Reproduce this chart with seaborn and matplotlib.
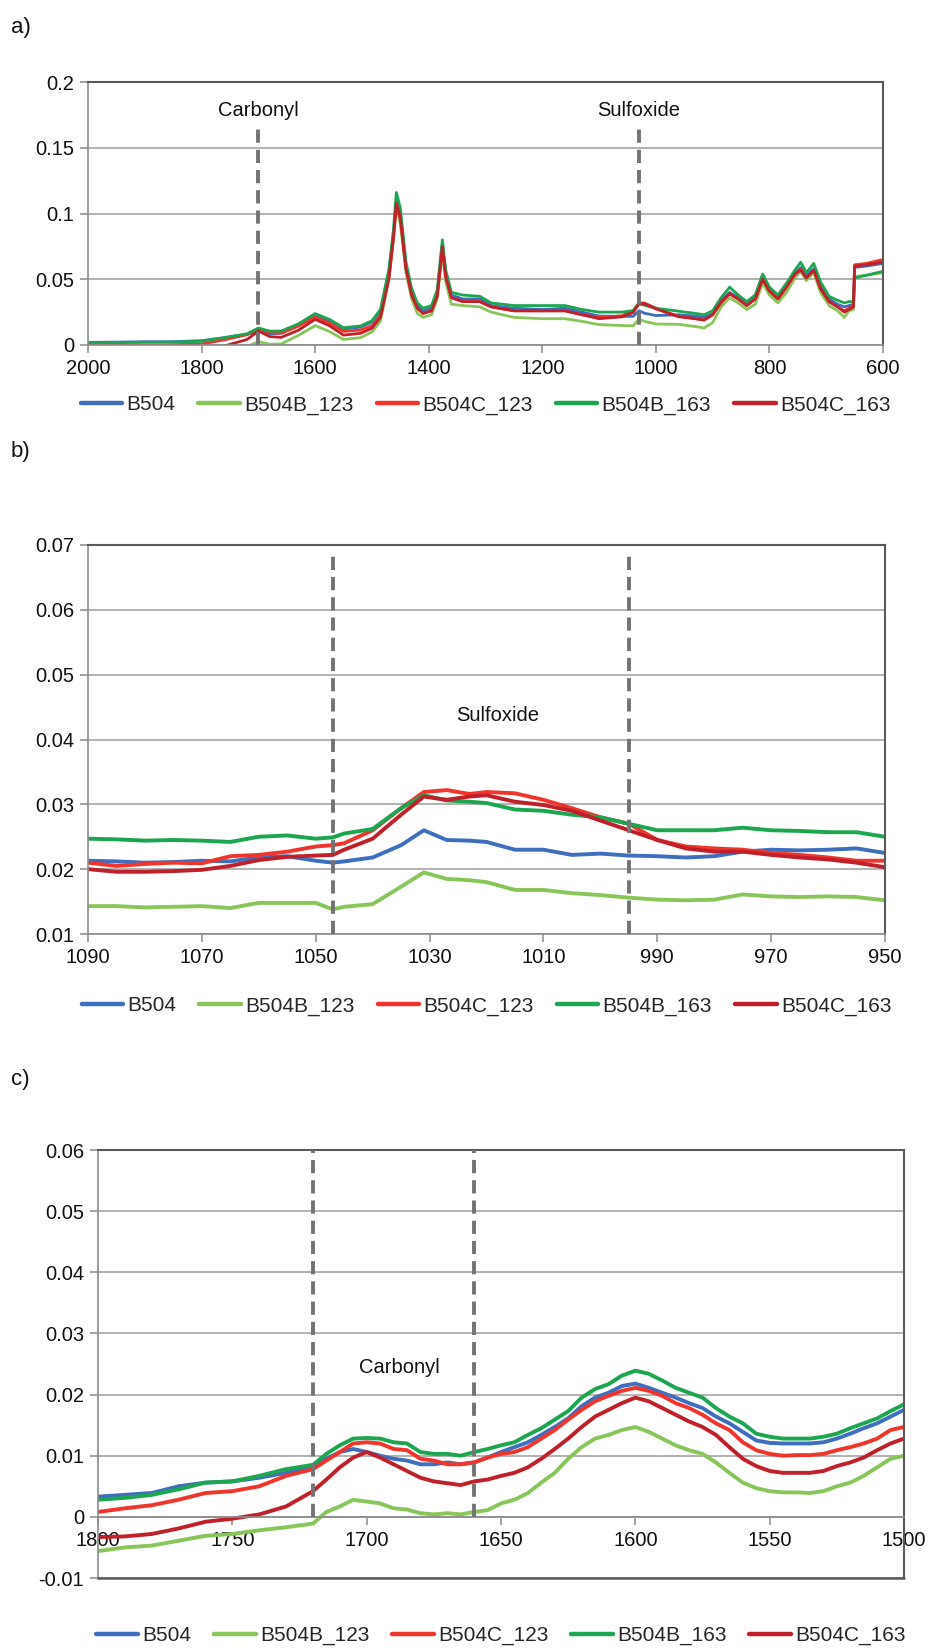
import numpy as np
import pandas as pd
import matplotlib
matplotlib.use("Agg")
import matplotlib.pyplot as plt
import seaborn as sns
from matplotlib.ticker import FixedLocator, FuncFormatter

# ---------------- data ----------------
SERIES = ["B504", "B504B_123", "B504C_123", "B504B_163", "B504C_163"]
COLORS = {"B504": "#3d6fbe", "B504B_123": "#88c65a", "B504C_123": "#f0362c",
          "B504B_163": "#1ca64f", "B504C_163": "#c0202a"}

# Panel a: full spectrum 2000-600 cm-1
XA = [2000, 1950, 1900, 1850, 1800, 1760, 1720, 1700, 1680, 1660,
      1630, 1600, 1575, 1550, 1520, 1500, 1485, 1470, 1462, 1457,
      1450, 1440, 1430, 1420, 1410, 1395, 1385, 1376, 1370, 1360,
      1340, 1310, 1290, 1250, 1200, 1160, 1130, 1100, 1060, 1040,
      1030, 1020, 1000, 960, 930, 915, 900, 885, 870, 855,
      840, 825, 812, 800, 785, 770, 755, 745, 735, 722,
      710, 695, 680, 668, 660, 652, 650, 630, 600]
A_B504 = [.002, .0022, .0025, .0025, .0033, .0056, .0081, .0106, .0086, .0089,
          .0147, .0218, .0178, .0121, .0136, .0175, .025, .055, .085, .110,
          .100, .060, .040, .030, .026, .028, .040, .076, .055, .038,
          .035, .035, .030, .028, .027, .028, .025, .022, .0218, .0218,
          .026, .0242, .0224, .023, .022, .021, .024, .034, .040, .036,
          .031, .036, .051, .042, .036, .045, .055, .059, .053, .058,
          .045, .035, .031, .029, .030, .031, .059, .060, .062]
A_B504B_123 = [-.009, -.008, -.0075, -.0065, -.0056, -.0031, -.0011, .0025, .0006, .0008,
               .0072, .0147, .0103, .0042, .0056, .010, .018, .050, .080, .107,
               .092, .055, .035, .024, .021, .023, .035, .070, .048, .031,
               .030, .029, .025, .021, .020, .020, .018, .0155, .0148, .0146,
               .0195, .018, .016, .0157, .014, .013, .017, .029, .036, .032,
               .027, .031, .047, .038, .032, .040, .051, .056, .049, .055,
               .040, .030, .026, .021, .026, .027, .052, .053, .055]
A_B504C_123 = [-.0005, -.0004, -.0003, .0002, .0008, .0039, .0078, .0122, .0095, .0089,
               .0142, .0211, .0167, .0103, .0114, .0147, .022, .052, .082, .105,
               .096, .058, .038, .028, .024, .026, .038, .074, .052, .036,
               .033, .033, .029, .026, .026, .026, .023, .021, .0222, .026,
               .0319, .0319, .028, .0218, .020, .019, .023, .032, .039, .035,
               .030, .035, .050, .041, .035, .044, .054, .058, .051, .057,
               .043, .033, .029, .026, .028, .030, .061, .062, .065]
A_B504B_163 = [.0015, .0018, .002, .0022, .0028, .0056, .0085, .0129, .0106, .0106,
               .0159, .0239, .0195, .0131, .0145, .0184, .027, .058, .088, .116,
               .104, .063, .043, .032, .028, .030, .042, .080, .057, .040,
               .038, .037, .032, .030, .030, .030, .027, .025, .025, .0262,
               .0314, .0302, .028, .0257, .024, .023, .026, .036, .044, .038,
               .033, .038, .054, .044, .038, .047, .057, .063, .055, .062,
               .048, .037, .034, .032, .033, .033, .051, .053, .056]
A_B504C_163 = [-.004, -.004, -.0038, -.0035, -.0033, -.0008, .0042, .0106, .0064, .0058,
               .0111, .0195, .0147, .0075, .0089, .0128, .021, .051, .083, .108,
               .097, .058, .038, .028, .024, .026, .037, .075, .052, .036,
               .033, .033, .029, .026, .026, .026, .023, .020, .0214, .0247,
               .0312, .0314, .0275, .0215, .020, .019, .023, .033, .039, .035,
               .030, .035, .050, .041, .035, .044, .054, .057, .051, .057,
               .043, .033, .029, .025, .027, .029, .060, .061, .063]

# Panel b: sulfoxide region 1090-950 cm-1
XB = [1090, 1085, 1080, 1075, 1070, 1065, 1060, 1055, 1050, 1047, 1045, 1040, 1035, 1031, 1027, 1023,
      1020, 1015, 1010, 1005, 1000, 995, 990, 985, 980, 975, 970, 965, 960, 955, 950]
B_B504 = [.0213, .0212, .021, .0211, .0213, .0212, .0218, .022, .0213, .021, .0212, .0218, .0237, .026, .0245, .0244,
          .0242, .023, .023, .0222, .0224, .0221, .022, .0218, .022, .0227, .023, .0229, .023, .0232, .0225]
B_B504B_123 = [.0143, .0143, .0141, .0142, .0143, .014, .0148, .0148, .0148, .0138, .0142, .0146, .0173, .0195, .0185, .0183,
               .018, .0168, .0168, .0163, .016, .0156, .0153, .0152, .0153, .0161, .0158, .0157, .0158, .0157, .0152]
B_B504C_123 = [.021, .0205, .0208, .021, .0209, .022, .0222, .0227, .0235, .0237, .024, .026, .0294, .0319, .0322, .0316,
               .0319, .0317, .0307, .0294, .028, .027, .0245, .0235, .0232, .023, .0225, .0222, .0218, .0213, .0213]
B_B504B_163 = [.0247, .0246, .0244, .0245, .0244, .0242, .025, .0252, .0247, .0249, .0255, .0262, .0294, .0314, .0306, .0304,
               .0302, .0292, .029, .0284, .028, .027, .026, .026, .026, .0264, .026, .0259, .0257, .0257, .025]
B_B504C_163 = [.02, .0196, .0196, .0197, .0199, .0205, .0214, .0219, .0221, .0222, .023, .0247, .0284, .0312, .0307, .0312,
               .0314, .0304, .0299, .029, .0275, .026, .0245, .0232, .0227, .0227, .0222, .0218, .0215, .021, .0203]

# Panel c: carbonyl region 1800-1500 cm-1
XC = [1800, 1790, 1780, 1770, 1760, 1750, 1740, 1730, 1720,
      1715, 1710, 1705, 1700, 1695, 1690, 1685, 1680, 1675, 1670, 1665, 1660,
      1655, 1650, 1645, 1640, 1635, 1630, 1625, 1620, 1615, 1610, 1605, 1600,
      1595, 1590, 1585, 1580, 1575, 1570, 1565, 1560, 1555, 1550, 1545, 1540,
      1535, 1530, 1525, 1520, 1515, 1510, 1505, 1500]
C_B504 = [.0033, .0036, .0039, .005, .0056, .0058, .0064, .0072, .0081,
          .0095, .0106, .0111, .0106, .01, .0095, .0092, .0086, .0086, .0089, .0086, .0089,
          .0097, .0106, .0114, .0122, .0134, .0147, .0161, .0181, .0195, .0203, .0214, .0218,
          .0211, .0203, .0195, .0186, .0178, .0164, .0153, .0139, .0125, .0121, .012, .012,
          .012, .0122, .0128, .0136, .0145, .0153, .0164, .0175]
C_B504B_123 = [-.0056, -.005, -.0047, -.0039, -.0031, -.0028, -.0022, -.0017, -.0011,
               .0008, .0017, .0028, .0025, .0022, .0014, .0012, .0006, .0004, .0006, .0004, .0008,
               .0011, .0022, .0028, .0039, .0056, .0072, .0095, .0114, .0128, .0134, .0142, .0147,
               .0139, .0128, .0117, .0109, .0103, .0089, .0072, .0056, .0047, .0042, .004, .004,
               .0039, .0042, .005, .0056, .0067, .0081, .0095, .01]
C_B504C_123 = [.0008, .0014, .0019, .0028, .0039, .0042, .005, .0067, .0078,
               .0092, .0106, .012, .0122, .012, .0111, .0109, .0095, .0092, .0086, .0086, .0089,
               .0097, .0103, .0106, .0114, .0128, .0142, .0159, .0175, .0189, .0198, .0206, .0211,
               .0206, .0198, .0186, .0178, .0167, .0153, .0142, .0122, .0109, .0103, .01, .0101,
               .0101, .0103, .0109, .0114, .012, .0128, .0142, .0147]
C_B504B_163 = [.0028, .0031, .0036, .0045, .0056, .0058, .0067, .0078, .0085,
               .0103, .0117, .0128, .0129, .0128, .0122, .012, .0106, .0103, .0103, .01, .0106,
               .0111, .0117, .0122, .0134, .0145, .0159, .0173, .0195, .0209, .0217, .0231, .0239,
               .0234, .0223, .0211, .0203, .0195, .0178, .0164, .0153, .0136, .0131, .0128, .0128,
               .0128, .0131, .0136, .0145, .0153, .0161, .0173, .0184]
C_B504C_163 = [-.0033, -.0032, -.0028, -.0019, -.0008, -.0003, .0004, .0017, .0042,
               .0061, .0081, .0097, .0106, .0097, .0086, .0075, .0064, .0058, .0055, .0052, .0058,
               .0061, .0067, .0072, .0081, .0095, .0111, .0128, .0147, .0164, .0175, .0186, .0195,
               .0189, .0178, .0167, .0156, .0147, .0134, .0114, .0095, .0083, .0075, .0072, .0072,
               .0072, .0075, .0083, .0089, .0097, .0109, .012, .0128]

# Band markers (dashed lines) and labels
A_MARKS = [1700, 1030]
A_LABELS = ["Carbonyl", "Sulfoxide"]
B_MARKS = [1047, 995]
B_LABEL = "Sulfoxide"
C_MARKS = [1720, 1660]
C_LABEL = "Carbonyl"

A_XTICKS = [2000, 1800, 1600, 1400, 1200, 1000, 800, 600]
A_YTICKS = [0, 0.05, 0.1, 0.15, 0.2]
B_XTICKS = [1090, 1070, 1050, 1030, 1010, 990, 970, 950]
B_YTICKS = [0.01, 0.02, 0.03, 0.04, 0.05, 0.06, 0.07]
C_XTICKS = [1800, 1750, 1700, 1650, 1600, 1550, 1500]
C_YTICKS = [-0.01, 0, 0.01, 0.02, 0.03, 0.04, 0.05, 0.06]


def build(x, vals):
    frames = [pd.DataFrame({"wn": x, "absorb": v, "series": n}) for n, v in zip(SERIES, vals)]
    return pd.concat(frames, ignore_index=True)


df_a = build(XA, [A_B504, A_B504B_123, A_B504C_123, A_B504B_163, A_B504C_163])
df_b = build(XB, [B_B504, B_B504B_123, B_B504C_123, B_B504B_163, B_B504C_163])
df_c = build(XC, [C_B504, C_B504B_123, C_B504C_123, C_B504B_163, C_B504C_163])

# ---------------- style ----------------
sns.set_theme(style="white")
plt.rcParams["font.family"] = ["Liberation Sans", "DejaVu Sans"]

GRID = "#a6a6a6"
AXC = "#8c8c8c"
BOX = "#5a5a5a"
DASH = "#737373"
TICK_FS = 14.5

W, H = 931, 1652
fig = plt.figure(figsize=(W / 100, H / 100), dpi=100)


def add_ax(left, top, right, bottom):
    return fig.add_axes([left / W, 1 - bottom / H, (right - left) / W, (bottom - top) / H])


axA = add_ax(88, 82, 883, 345)
axB = add_ax(88, 545, 885, 934)
axC = add_ax(98, 1150, 904, 1578)


def style(ax, xlim, xticks, ylim, yticks, leg_y, zero_axis=False):
    ax.set_xlim(*xlim)
    ax.set_ylim(*ylim)
    ax.xaxis.set_major_locator(FixedLocator(xticks))
    ax.yaxis.set_major_locator(FixedLocator(yticks))
    ax.yaxis.set_major_formatter(FuncFormatter(lambda v, p: f"{round(v, 4):g}"))
    ax.xaxis.set_major_formatter(FuncFormatter(lambda v, p: f"{v:g}"))
    ax.set_xlabel("")
    ax.set_ylabel("")
    ax.set_axisbelow(True)
    ax.yaxis.grid(True, color=GRID, lw=1.2)
    ax.xaxis.grid(False)
    ax.tick_params(axis="both", which="major", bottom=True, left=True, direction="out",
                   length=6, width=1.1, color=AXC, labelsize=TICK_FS, pad=4, labelcolor="#111111")
    for s in ["top", "right"]:
        ax.spines[s].set_color(BOX)
        ax.spines[s].set_linewidth(1.5)
    ax.spines["left"].set_color(AXC)
    ax.spines["left"].set_linewidth(1.2)
    ax.spines["bottom"].set_color(AXC)
    ax.spines["bottom"].set_linewidth(1.2)
    if zero_axis:
        ax.spines["bottom"].set_position(("data", 0))
        ax.axhline(ylim[0], color=BOX, lw=1.8, clip_on=False, zorder=5)
    sns.move_legend(ax, "center", bbox_to_anchor=(0.5, leg_y), ncol=5, frameon=False,
                    title=None, fontsize=15, handlelength=2.0, handletextpad=0.2,
                    columnspacing=1.1)
    for ln in ax.get_legend().get_lines():
        ln.set_linewidth(3.2)


def draw(ax, df, lw):
    sns.lineplot(data=df, x="wn", y="absorb", hue="series", hue_order=SERIES, palette=COLORS,
                 estimator=None, sort=False, lw=lw, ax=ax)


# Panel a
draw(axA, df_a, 2.0)
axA.vlines(A_MARKS, 0, 0.167, colors=DASH, linestyles=(0, (3.4, 1.8)), lw=2.8, zorder=4)
for xm, lab in zip(A_MARKS, A_LABELS):
    axA.text(xm, 0.178, lab, ha="center", va="center", fontsize=14.5, color="#111111")
style(axA, (2000, 600), A_XTICKS, (0, 0.2), A_YTICKS, -0.228)

# Panel b
draw(axB, df_b, 2.8)
axB.vlines(B_MARKS[0], 0.01, 0.0693, colors=DASH, linestyles=(0, (3.4, 1.8)), lw=2.8, zorder=4)
axB.vlines(B_MARKS[1], 0.01, 0.0683, colors=DASH, linestyles=(0, (3.4, 1.8)), lw=2.8, zorder=4)
axB.text(1018, 0.0437, B_LABEL, ha="center", va="center", fontsize=14.5, color="#111111")
style(axB, (1090, 950), B_XTICKS, (0.01, 0.07), B_YTICKS, -0.185)

# Panel c
draw(axC, df_c, 2.8)
axC.vlines(C_MARKS, 0, 0.06, colors=DASH, linestyles=(0, (3.4, 1.8)), lw=2.8, zorder=4)
axC.text(1688, 0.0245, C_LABEL, ha="center", va="center", fontsize=14.5, color="#111111")
style(axC, (1800, 1500), C_XTICKS, (-0.01, 0.06), C_YTICKS, -0.135, zero_axis=True)

# Panel letters
for lab, ypx in [("a)", 27), ("b)", 452), ("c)", 1080)]:
    fig.text(11 / W, 1 - ypx / H, lab, fontsize=16, va="center", ha="left", color="#111111")

fig.savefig("out.png", dpi=100)
